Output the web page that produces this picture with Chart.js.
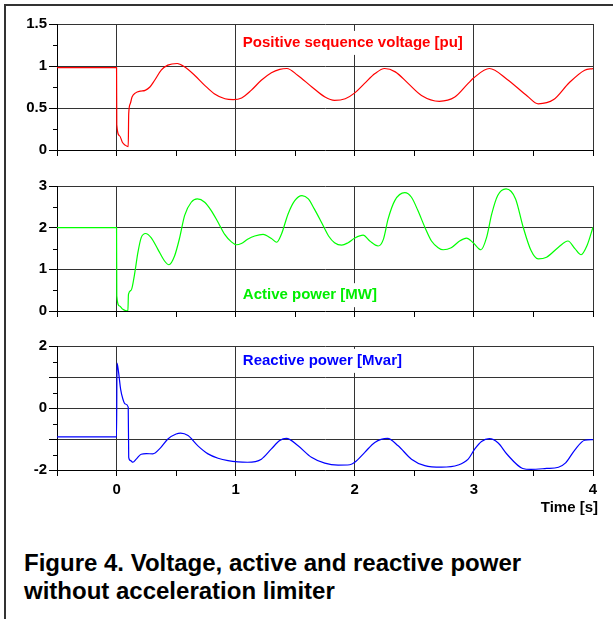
<!DOCTYPE html>
<html><head><meta charset="utf-8">
<script src="https://cdn.jsdelivr.net/npm/chart.js@4.4.0/dist/chart.umd.min.js"></script>
<style>
html,body{margin:0;padding:0;background:#fff;}
body{width:613px;height:619px;position:relative;overflow:hidden;font-family:"Liberation Sans",Arial,sans-serif;}
.frame{position:absolute;left:4px;top:4px;width:700px;height:700px;border-left:2px solid #333;border-top:2px solid #333;}
.panel{position:absolute;left:0;width:613px;}
#cap{position:absolute;left:24px;top:549px;font-weight:bold;font-size:24px;line-height:28px;color:#000;white-space:nowrap;}
</style></head><body>
<div class="frame"></div>
<div class="panel" style="top:0;height:164px"><canvas id="c1"></canvas></div>
<div class="panel" style="top:162px;height:163px"><canvas id="c2"></canvas></div>
<div class="panel" style="top:322px;height:200px"><canvas id="c3"></canvas></div>
<div id="cap">Figure 4. Voltage, active and reactive power<br>without acceleration limiter</div>
<script>
// ---- data ----
const xTicks = [0, 1, 2, 3, 4];
const voltTime = [-0.5, 0, 0.002, 0.025, 0.05, 0.075, 0.098, 0.102, 0.115, 0.13, 0.16, 0.20, 0.24, 0.28, 0.32, 0.375, 0.43, 0.51, 0.57, 0.655, 0.74, 0.82, 0.91, 0.98, 1.05, 1.13, 1.215, 1.30, 1.37, 1.43, 1.52, 1.64, 1.75, 1.83, 1.92, 2.0, 2.08, 2.17, 2.25, 2.34, 2.45, 2.56, 2.71, 2.84, 2.95, 3.0, 3.13, 3.28, 3.45, 3.54, 3.67, 3.80, 3.93, 4.0];
const voltage = [0.98, 0.98, 0.30, 0.17, 0.09, 0.055, 0.04, 0.43, 0.55, 0.63, 0.68, 0.70, 0.71, 0.75, 0.83, 0.95, 1.01, 1.03, 0.99, 0.89, 0.77, 0.67, 0.61, 0.60, 0.62, 0.71, 0.83, 0.92, 0.96, 0.97, 0.89, 0.75, 0.63, 0.59, 0.61, 0.68, 0.79, 0.91, 0.97, 0.93, 0.79, 0.65, 0.58, 0.63, 0.79, 0.86, 0.97, 0.84, 0.64, 0.55, 0.60, 0.80, 0.95, 0.97];

const activeTime = [-0.5, 0, 0.002, 0.025, 0.053, 0.095, 0.1, 0.123, 0.151, 0.179, 0.207, 0.244, 0.29, 0.347, 0.403, 0.44, 0.487, 0.53, 0.571, 0.627, 0.678, 0.74, 0.795, 0.852, 0.908, 0.964, 1.005, 1.048, 1.10, 1.16, 1.23, 1.30, 1.345, 1.384, 1.44, 1.496, 1.557, 1.61, 1.66, 1.72, 1.78, 1.83, 1.89, 1.944, 2.0, 2.07, 2.126, 2.196, 2.24, 2.28, 2.336, 2.42, 2.476, 2.53, 2.59, 2.644, 2.70, 2.742, 2.81, 2.88, 2.938, 2.994, 3.06, 3.106, 3.15, 3.2, 3.27, 3.35, 3.41, 3.48, 3.54, 3.61, 3.71, 3.79, 3.85, 3.90, 3.95, 4.0];
const active = [2.0, 2.0, 0.36, 0.12, 0.04, 0.0, 0.40, 0.50, 0.88, 1.40, 1.76, 1.86, 1.76, 1.48, 1.20, 1.11, 1.32, 1.76, 2.29, 2.61, 2.69, 2.61, 2.41, 2.13, 1.84, 1.66, 1.59, 1.62, 1.72, 1.80, 1.84, 1.74, 1.65, 1.84, 2.33, 2.65, 2.77, 2.69, 2.45, 2.13, 1.80, 1.64, 1.58, 1.64, 1.75, 1.82, 1.68, 1.56, 1.72, 2.21, 2.65, 2.84, 2.73, 2.41, 2.00, 1.68, 1.52, 1.47, 1.52, 1.68, 1.75, 1.64, 1.47, 1.76, 2.33, 2.77, 2.93, 2.69, 2.05, 1.45, 1.25, 1.29, 1.53, 1.68, 1.49, 1.35, 1.57, 2.01];

const reactTime = [-0.5, 0, 0.004, 0.017, 0.034, 0.053, 0.073, 0.098, 0.102, 0.118, 0.137, 0.165, 0.207, 0.25, 0.305, 0.361, 0.431, 0.50, 0.538, 0.60, 0.683, 0.768, 0.852, 0.936, 1.02, 1.10, 1.216, 1.30, 1.37, 1.426, 1.524, 1.636, 1.748, 1.86, 1.958, 2.0, 2.084, 2.168, 2.275, 2.364, 2.476, 2.588, 2.728, 2.868, 2.952, 3.008, 3.064, 3.13, 3.204, 3.28, 3.41, 3.48, 3.61, 3.71, 3.77, 3.85, 3.93, 4.0];
const reactive = [-0.93, -0.93, 1.45, 1.15, 0.61, 0.29, 0.13, 0.03, -1.59, -1.70, -1.75, -1.65, -1.49, -1.47, -1.48, -1.32, -1.0, -0.84, -0.81, -0.89, -1.22, -1.48, -1.62, -1.70, -1.74, -1.75, -1.65, -1.32, -1.05, -0.98, -1.22, -1.59, -1.78, -1.84, -1.83, -1.75, -1.43, -1.11, -0.98, -1.22, -1.65, -1.86, -1.91, -1.84, -1.65, -1.32, -1.08, -0.99, -1.13, -1.50, -1.95, -1.98, -1.95, -1.91, -1.77, -1.34, -1.04, -1.02];

// ---- drawing ----
const FONT = '"Liberation Sans", Arial, sans-serif';
const GRID = '#333';

const minorTicks = {
  id: 'minorTicks',
  afterDraw(chart, args, opts) {
    const ys = chart.scales.y, ctx = chart.ctx;
    ctx.save(); ctx.strokeStyle = '#000'; ctx.lineWidth = 1;
    for (let v = ys.min + opts.step / 2; v < ys.max; v += opts.step) {
      const py = Math.round(ys.getPixelForValue(v)) + 0.5;
      ctx.beginPath(); ctx.moveTo(ys.right - 4, py); ctx.lineTo(ys.right, py); ctx.stroke();
    }
    ctx.restore();
  }
};
const seriesLabel = {
  id: 'seriesLabel',
  beforeDatasetsDraw(chart, args, o) {
    const ctx = chart.ctx;
    ctx.save();
    ctx.font = 'bold 15px ' + FONT;
    const w = ctx.measureText(o.text).width;
    const px = chart.scales.x.getPixelForValue(o.x);
    const py = chart.scales.y.getPixelForValue(o.y);
    ctx.fillStyle = '#fff';
    ctx.fillRect(px - 4, py - 12, w + 8, 24);
    ctx.fillStyle = o.color; ctx.textBaseline = 'middle'; ctx.textAlign = 'left';
    ctx.fillText(o.text, px, py);
    ctx.restore();
  }
};
const axisTitle = {
  id: 'axisTitle',
  afterDraw(chart, args, o) {
    if (!o.text) return;
    const ctx = chart.ctx, xs = chart.scales.x;
    ctx.save();
    ctx.font = 'bold 15px ' + FONT;
    ctx.fillStyle = '#000'; ctx.textAlign = 'right'; ctx.textBaseline = 'middle';
    ctx.fillText(o.text, xs.right + 5, xs.top + 38);
    ctx.restore();
  }
};

function pts(t, v) { return t.map((x, i) => ({x: x, y: v[i]})); }

function makeChart(id, times, values, color, yMin, yMax, yStep, labelStep, label, bottom) {
  return new Chart(document.getElementById(id), {
    type: 'line',
    data: { datasets: [{ data: pts(times, values), borderColor: color, borderWidth: 1.2, pointRadius: 0, fill: false, cubicInterpolationMode: 'monotone' }] },
    plugins: [minorTicks, seriesLabel, axisTitle],
    options: {
      responsive: true, maintainAspectRatio: false, animation: false,
      layout: { padding: { top: 24, right: 20, left: 0, bottom: 0 } },
      plugins: { legend: { display: false }, tooltip: { enabled: false },
        minorTicks: { step: yStep },
        seriesLabel: label,
        axisTitle: { text: bottom ? 'Time [s]' : '' } },
      scales: {
        x: {
          type: 'linear', min: -0.5, max: 4,
          afterFit: s => { s.height = bottom ? 52 : 14; },
          border: { display: true, color: '#000', width: 1 },
          grid: { color: c => (Number.isInteger(c.tick.value) && c.tick.value >= 0 ? GRID : 'rgba(0,0,0,0)'), tickColor: '#000', tickLength: 6, lineWidth: 1 },
          ticks: { stepSize: 0.5, autoSkip: false, maxRotation: 0, display: bottom, padding: 5, color: '#000',
            font: { family: FONT, weight: 'bold', size: 15 },
            callback: v => (xTicks.includes(v) ? String(v) : '') }
        },
        y: {
          min: yMin, max: yMax,
          afterFit: s => { s.width = 57; },
          border: { display: true, color: '#000', width: 1 },
          grid: { color: c => (c.tick.value === yMin ? 'rgba(0,0,0,0)' : GRID), tickColor: '#000', tickLength: 8, lineWidth: 1 },
          ticks: { stepSize: yStep, autoSkip: false, padding: 2, color: '#000',
            font: { family: FONT, weight: 'bold', size: 15 },
            callback: v => (Math.abs(v / labelStep - Math.round(v / labelStep)) < 1e-6 ? String(v) : '') }
        }
      }
    }
  });
}

makeChart('c1', voltTime, voltage, '#ff0000', 0, 1.5, 0.5, 0.5,
  { text: 'Positive sequence voltage [pu]', color: '#ff0000', x: 1.06, y: 1.275 }, false);
makeChart('c2', activeTime, active, '#00ff00', 0, 3, 1, 1,
  { text: 'Active power [MW]', color: '#00ee00', x: 1.06, y: 0.38 }, false);
makeChart('c3', reactTime, reactive, '#0000ff', -2, 2, 1, 2,
  { text: 'Reactive power [Mvar]', color: '#0000ff', x: 1.06, y: 1.52 }, true);
</script>
</body></html>
